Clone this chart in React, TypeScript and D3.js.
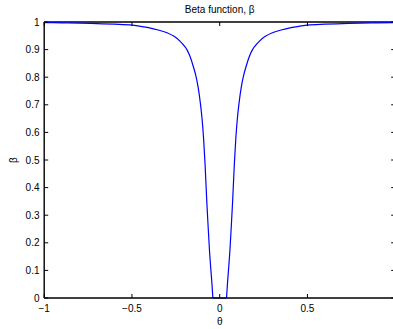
import React from "react";
import * as d3 from "d3";

const leftTheta = [-1, -0.9, -0.8, -0.7, -0.6, -0.5, -0.45, -0.4, -0.35, -0.3, -0.26, -0.225, -0.2, -0.187, -0.17, -0.15, -0.135, -0.123, -0.11, -0.101, -0.092, -0.083, -0.074, -0.066, -0.058, -0.05, -0.044, -0.039];
const leftBeta = [0.998, 0.997, 0.996, 0.994, 0.992, 0.989, 0.984, 0.979, 0.971, 0.961, 0.948, 0.93, 0.912, 0.9, 0.877, 0.838, 0.803, 0.764, 0.705, 0.652, 0.58, 0.48, 0.355, 0.26, 0.17, 0.1, 0.05, 0];
const rightTheta = [0.039, 0.044, 0.05, 0.058, 0.066, 0.074, 0.083, 0.092, 0.101, 0.11, 0.123, 0.135, 0.15, 0.17, 0.187, 0.2, 0.225, 0.26, 0.3, 0.35, 0.4, 0.45, 0.5, 0.6, 0.7, 0.8, 0.9, 1];
const rightBeta = [0, 0.05, 0.1, 0.17, 0.26, 0.355, 0.48, 0.58, 0.652, 0.705, 0.764, 0.803, 0.838, 0.877, 0.9, 0.912, 0.93, 0.948, 0.961, 0.971, 0.979, 0.984, 0.989, 0.992, 0.994, 0.996, 0.997, 0.998];

const xTicks = [-1, -0.5, 0, 0.5];
const yTicks = [0, 0.1, 0.2, 0.3, 0.4, 0.5, 0.6, 0.7, 0.8, 0.9, 1];

const W = 393, H = 329;
const FONT = "'Liberation Sans', Arial, Helvetica, sans-serif";

export default function App() {
  const x = d3.scaleLinear().domain([-1, 1]).range([44.2, 395.2]);
  const y = d3.scaleLinear().domain([0, 1]).range([298, 22]);
  const left = leftTheta.map((t, i) => [t, leftBeta[i]] as [number, number]);
  const right = rightTheta.map((t, i) => [t, rightBeta[i]] as [number, number]);
  const line = d3.line<[number, number]>().x(d => x(d[0])).y(d => y(d[1])).curve(d3.curveMonotoneX);
  const path = (line(left) || "") + (line([left[left.length - 1], right[0]]) || "") + (line(right) || "");
  const fmt = (v: number) => (v < 0 ? "\u2212" + String(-v) : String(v));
  const x0 = x(-1), x1 = x(1), yT = y(1), yB = y(0);
  return (
    <svg width={W} height={H} style={{ position: "absolute", left: 0, top: 0, background: "#fff" }} fontFamily={FONT}>
      <rect width={W} height={H} fill="#fff" />
      <line x1={x0} x2={x1} y1={yT} y2={yT} stroke="#000" strokeWidth={1.4} />
      <path d={path} fill="none" stroke="#0000ff" strokeWidth={1.2} />
      <line x1={x0} x2={x1} y1={yB} y2={yB} stroke="#000" strokeWidth={1.4} />
      <line x1={x0} x2={x0} y1={yT} y2={yB} stroke="#000" strokeWidth={1.4} />
      <line x1={x1} x2={x1} y1={yT} y2={yB} stroke="#000" strokeWidth={1.4} />
      {xTicks.map(t => (
        <g key={"x" + t}>
          <line x1={x(t)} x2={x(t)} y1={yB} y2={yB - 4} stroke="#000" strokeWidth={1} />
          <line x1={x(t)} x2={x(t)} y1={yT} y2={yT + 4} stroke="#000" strokeWidth={1} />
          <text x={x(t)} y={312} fontSize={10} textAnchor="middle" fill="#000">{fmt(t)}</text>
        </g>
      ))}
      {yTicks.map(t => (
        <g key={"y" + t}>
          <line x1={x0} x2={x0 + 4} y1={y(t)} y2={y(t)} stroke="#000" strokeWidth={1} />
          <line x1={x1} x2={x1 - 4} y1={y(t)} y2={y(t)} stroke="#000" strokeWidth={1} />
          <text x={39.5} y={y(t) + 3.5} fontSize={10} textAnchor="end" fill="#000">{fmt(t)}</text>
        </g>
      ))}
      <text x={x(0)} y={325} fontSize={10} textAnchor="middle" fill="#000">θ</text>
      <text transform={`translate(17,160) rotate(-90)`} fontSize={10} textAnchor="middle" fill="#000">β</text>
      <text x={x(0)} y={13} fontSize={10} textAnchor="middle" fill="#000">Beta function, β</text>
    </svg>
  );
}
